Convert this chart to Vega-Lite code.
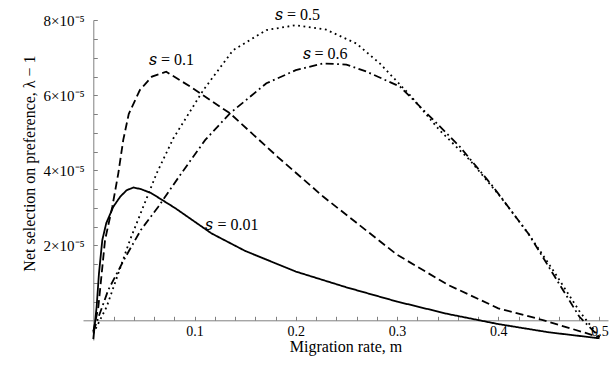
{
  "$schema": "https://vega.github.io/schema/vega-lite/v6.json",
  "width": 525,
  "height": 320,
  "autosize": {"type": "none"},
  "padding": {"left": 83, "top": 20, "right": 1, "bottom": 27},
  "background": "white",
  "config": {"view": {"stroke": null}, "font": "Liberation Serif"},
  "datasets": {
    "curves": [
      {"s": "0.01", "m": 0, "v": -0.5e-5},
      {"s": "0.01", "m": 0.0033, "v": 0.36e-5},
      {"s": "0.01", "m": 0.0056, "v": 1.25e-5},
      {"s": "0.01", "m": 0.0089, "v": 2.14e-5},
      {"s": "0.01", "m": 0.0128, "v": 2.59e-5},
      {"s": "0.01", "m": 0.0198, "v": 3.03e-5},
      {"s": "0.01", "m": 0.0267, "v": 3.3e-5},
      {"s": "0.01", "m": 0.033, "v": 3.47e-5},
      {"s": "0.01", "m": 0.0395, "v": 3.54e-5},
      {"s": "0.01", "m": 0.047, "v": 3.5e-5},
      {"s": "0.01", "m": 0.0573, "v": 3.39e-5},
      {"s": "0.01", "m": 0.081, "v": 2.99e-5},
      {"s": "0.01", "m": 0.1166, "v": 2.32e-5},
      {"s": "0.01", "m": 0.15, "v": 1.85e-5},
      {"s": "0.01", "m": 0.2, "v": 1.3e-5},
      {"s": "0.01", "m": 0.25, "v": 0.88e-5},
      {"s": "0.01", "m": 0.3, "v": 0.5e-5},
      {"s": "0.01", "m": 0.35, "v": 0.17e-5},
      {"s": "0.01", "m": 0.4, "v": -0.1e-5},
      {"s": "0.01", "m": 0.45, "v": -0.32e-5},
      {"s": "0.01", "m": 0.5, "v": -0.48e-5},

      {"s": "0.1", "m": 0, "v": -0.3e-5},
      {"s": "0.1", "m": 0.005, "v": 0.36e-5},
      {"s": "0.1", "m": 0.0116, "v": 2.14e-5},
      {"s": "0.1", "m": 0.0188, "v": 3.03e-5},
      {"s": "0.1", "m": 0.0247, "v": 3.92e-5},
      {"s": "0.1", "m": 0.0296, "v": 4.81e-5},
      {"s": "0.1", "m": 0.035, "v": 5.5e-5},
      {"s": "0.1", "m": 0.046, "v": 6.14e-5},
      {"s": "0.1", "m": 0.058, "v": 6.5e-5},
      {"s": "0.1", "m": 0.072, "v": 6.63e-5},
      {"s": "0.1", "m": 0.0958, "v": 6.23e-5},
      {"s": "0.1", "m": 0.135, "v": 5.52e-5},
      {"s": "0.1", "m": 0.182, "v": 4.36e-5},
      {"s": "0.1", "m": 0.227, "v": 3.3e-5},
      {"s": "0.1", "m": 0.26, "v": 2.6e-5},
      {"s": "0.1", "m": 0.3, "v": 1.75e-5},
      {"s": "0.1", "m": 0.35, "v": 0.95e-5},
      {"s": "0.1", "m": 0.4, "v": 0.32e-5},
      {"s": "0.1", "m": 0.445, "v": 0},
      {"s": "0.1", "m": 0.5, "v": -0.45e-5},

      {"s": "0.5", "m": 0, "v": -0.35e-5},
      {"s": "0.5", "m": 0.0132, "v": 0.36e-5},
      {"s": "0.5", "m": 0.0247, "v": 1.25e-5},
      {"s": "0.5", "m": 0.0362, "v": 2.14e-5},
      {"s": "0.5", "m": 0.0494, "v": 3.03e-5},
      {"s": "0.5", "m": 0.0626, "v": 3.92e-5},
      {"s": "0.5", "m": 0.079, "v": 4.85e-5},
      {"s": "0.5", "m": 0.1087, "v": 6.14e-5},
      {"s": "0.5", "m": 0.138, "v": 7.2e-5},
      {"s": "0.5", "m": 0.171, "v": 7.74e-5},
      {"s": "0.5", "m": 0.2, "v": 7.87e-5},
      {"s": "0.5", "m": 0.23, "v": 7.75e-5},
      {"s": "0.5", "m": 0.26, "v": 7.38e-5},
      {"s": "0.5", "m": 0.283, "v": 6.85e-5},
      {"s": "0.5", "m": 0.313, "v": 6.0e-5},
      {"s": "0.5", "m": 0.342, "v": 5.07e-5},
      {"s": "0.5", "m": 0.372, "v": 4.27e-5},
      {"s": "0.5", "m": 0.402, "v": 3.3e-5},
      {"s": "0.5", "m": 0.43, "v": 2.3e-5},
      {"s": "0.5", "m": 0.455, "v": 1.3e-5},
      {"s": "0.5", "m": 0.48, "v": 0.25e-5},
      {"s": "0.5", "m": 0.5, "v": -0.45e-5},

      {"s": "0.6", "m": 0, "v": -0.3e-5},
      {"s": "0.6", "m": 0.0148, "v": 0.81e-5},
      {"s": "0.6", "m": 0.03, "v": 1.6e-5},
      {"s": "0.6", "m": 0.047, "v": 2.41e-5},
      {"s": "0.6", "m": 0.0642, "v": 3.03e-5},
      {"s": "0.6", "m": 0.087, "v": 3.92e-5},
      {"s": "0.6", "m": 0.1106, "v": 4.81e-5},
      {"s": "0.6", "m": 0.135, "v": 5.52e-5},
      {"s": "0.6", "m": 0.171, "v": 6.32e-5},
      {"s": "0.6", "m": 0.2, "v": 6.67e-5},
      {"s": "0.6", "m": 0.227, "v": 6.85e-5},
      {"s": "0.6", "m": 0.25, "v": 6.82e-5},
      {"s": "0.6", "m": 0.27, "v": 6.63e-5},
      {"s": "0.6", "m": 0.303, "v": 6.23e-5},
      {"s": "0.6", "m": 0.336, "v": 5.34e-5},
      {"s": "0.6", "m": 0.362, "v": 4.63e-5},
      {"s": "0.6", "m": 0.395, "v": 3.56e-5},
      {"s": "0.6", "m": 0.43, "v": 2.3e-5},
      {"s": "0.6", "m": 0.455, "v": 1.2e-5},
      {"s": "0.6", "m": 0.48, "v": 0.1e-5},
      {"s": "0.6", "m": 0.5, "v": -0.45e-5}
    ],
    "labels": [
      {"label": "𝑠 = 0.5", "m": 0.2017, "v": 8.14e-5},
      {"label": "𝑠 = 0.1", "m": 0.0772, "v": 6.94e-5},
      {"label": "𝑠 = 0.6", "m": 0.2289, "v": 7.1e-5},
      {"label": "𝑠 = 0.01", "m": 0.137, "v": 2.55e-5}
    ]
  },
  "layer": [
    {
      "data": {"name": "curves"},
      "mark": {"type": "line", "color": "black", "strokeWidth": 1.8, "strokeCap": "butt", "clip": false},
      "encoding": {
        "x": {
          "field": "m", "type": "quantitative",
          "scale": {"domain": [-0.01017, 0.5084], "nice": false, "zero": false},
          "axis": {
            "orient": "bottom", "offset": -19.7, "values": [0.1, 0.2, 0.3, 0.4, 0.5],
            "ticks": false, "tickSize": 0, "grid": false, "labelPadding": 4, "labelFlush": false, "labelOverlap": false,
            "labelFont": "Liberation Serif", "labelFontSize": 14, "labelColor": "black",
            "domainColor": "#808080", "domainWidth": 1,
            "title": "Migration rate, m", "titleFont": "Liberation Serif", "titleFontSize": 16, "titleFontWeight": "normal",
            "titleColor": "black", "titleBaseline": "alphabetic", "titleY": 31.5
          }
        },
        "y": {
          "field": "v", "type": "quantitative",
          "scale": {"domain": [-0.00000525, 0.00008008], "nice": false, "zero": false},
          "axis": {
            "orient": "left", "offset": -10.3, "values": [0.00002, 0.00004, 0.00006, 0.00008],
            "labelExpr": "round(datum.value*1e5) + '×10⁻⁵'",
            "ticks": false, "tickSize": 0, "grid": false, "labelPadding": 9, "labelOverlap": false, "labelFlush": false,
            "labelFont": "Liberation Serif", "labelFontSize": 15, "labelColor": "black",
            "domainColor": "#808080", "domainWidth": 1,
            "title": "Net selection on preference, λ − 1", "titleFont": "Liberation Serif", "titleFontSize": 16,
            "titleFontWeight": "normal", "titleColor": "black", "titleAngle": -90, "titleAlign": "center",
            "titleBaseline": "middle", "titleX": -64, "titleY": 143
          }
        },
        "strokeDash": {
          "field": "s", "type": "nominal",
          "scale": {"domain": ["0.01", "0.1", "0.5", "0.6"], "range": [[1, 0], [8, 4], [1.8, 3.6], [8, 3.5, 1.8, 3.5]]},
          "legend": null
        }
      }
    },
    {
      "data": {"name": "labels"},
      "mark": {"type": "text", "font": "Liberation Serif", "fontSize": 16, "color": "black", "align": "center", "baseline": "middle"},
      "encoding": {
        "x": {
          "field": "m", "type": "quantitative",
          "axis": {
            "orient": "top", "offset": -300.3, "title": null, "labels": false, "domain": false, "grid": false,
            "values": [0.02, 0.04, 0.06, 0.08, 0.1, 0.12, 0.14, 0.16, 0.18, 0.2, 0.22, 0.24, 0.26, 0.28, 0.3, 0.32, 0.34, 0.36, 0.38, 0.4, 0.42, 0.44, 0.46, 0.48, 0.5],
            "tickSize": 4, "tickColor": "#808080", "tickWidth": 1
          }
        },
        "y": {
          "field": "v", "type": "quantitative",
          "axis": {
            "orient": "right", "offset": -514.7, "title": null, "labels": false, "domain": false, "grid": false,
            "values": [0.000005, 0.00001, 0.000015, 0.00002, 0.000025, 0.00003, 0.000035, 0.00004, 0.000045, 0.00005, 0.000055, 0.00006, 0.000065, 0.00007, 0.000075, 0.00008],
            "tickSize": 4, "tickColor": "#808080", "tickWidth": 1
          }
        },
        "text": {"field": "label", "type": "nominal"}
      }
    }
  ],
  "resolve": {"axis": {"x": "independent", "y": "independent"}}
}
